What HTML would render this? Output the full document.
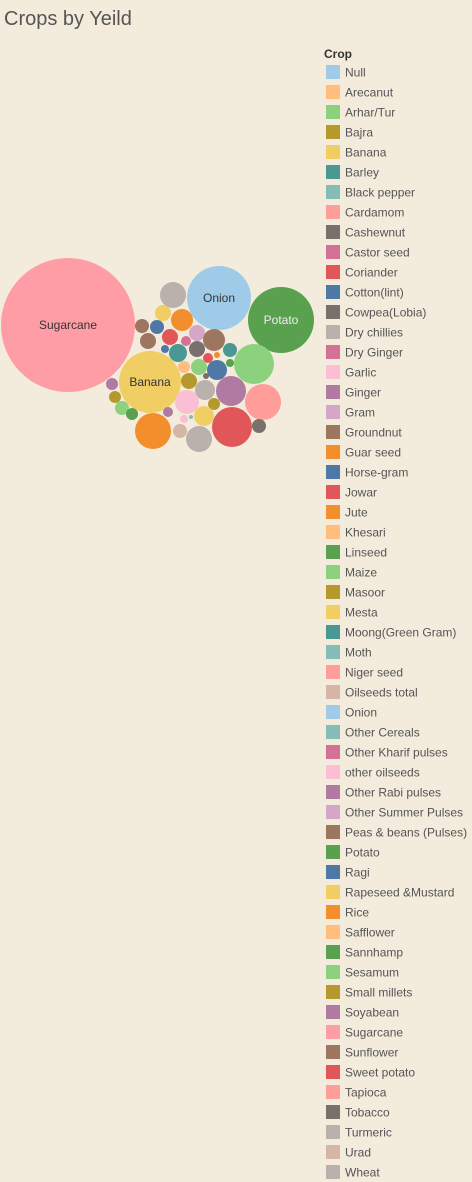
<!DOCTYPE html>
<html><head><meta charset="utf-8">
<style>
body{margin:0;width:472px;height:1182px;background:#f3ecdc;font-family:"Liberation Sans",sans-serif;overflow:hidden;position:relative}
#title{position:absolute;left:4px;top:8px;font-size:20px;color:#555}
svg{position:absolute;left:0;top:0}
</style></head><body>
<div id="title">Crops by Yeild</div>
<svg id="chart" width="472" height="1182"></svg>
<script>
const crops=["Null","Arecanut","Arhar/Tur","Bajra","Banana","Barley","Black pepper","Cardamom","Cashewnut","Castor seed","Coriander","Cotton(lint)","Cowpea(Lobia)","Dry chillies","Dry Ginger","Garlic","Ginger","Gram","Groundnut","Guar seed","Horse-gram","Jowar","Jute","Khesari","Linseed","Maize","Masoor","Mesta","Moong(Green Gram)","Moth","Niger seed","Oilseeds total","Onion","Other Cereals","Other Kharif pulses","other oilseeds","Other Rabi pulses","Other Summer Pulses","Peas & beans (Pulses)","Potato","Ragi","Rapeseed &Mustard","Rice","Safflower","Sannhamp","Sesamum","Small millets","Soyabean","Sugarcane","Sunflower","Sweet potato","Tapioca","Tobacco","Turmeric","Urad","Wheat"];
const colors=["#a0cbe8","#ffbe7d","#8cd17d","#b6992d","#f1ce63","#499894","#86bcb6","#ff9d9a","#79706e","#d37295","#e15759","#4e79a7","#79706e","#bab0ac","#d37295","#fabfd2","#b07aa1","#d4a6c8","#9d7660","#f28e2b","#4e79a7","#e15759","#f28e2b","#ffbe7d","#59a14f","#8cd17d","#b6992d","#f1ce63","#499894","#86bcb6","#ff9d9a","#d7b5a6","#a0cbe8","#86bcb6","#d37295","#fabfd2","#b07aa1","#d4a6c8","#9d7660","#59a14f","#4e79a7","#f1ce63","#f28e2b","#ffbe7d","#59a14f","#8cd17d","#b6992d","#b07aa1","#ff9da7","#9d7660","#e15759","#ff9d9a","#79706e","#bab0ac","#d7b5a6","#bab0ac"];
// bubble data: crop and yield value
const bubbleCrop=["Sugarcane","Onion","Potato","Banana","Maize","Tapioca","Sweet potato","Rice","Soyabean","Turmeric","Dry chillies","Guar seed","Mesta","Peas & beans (Pulses)","Cotton(lint)","Coriander","Sunflower","Gram","Castor seed","Cowpea(Lobia)","Groundnut","Barley","Moong(Green Gram)","Ragi","Jowar","Jute","Linseed","Horse-gram","Sesamum","Khesari","Bajra","Wheat","Garlic","Small millets","Rapeseed &Mustard","Urad","Other Rabi pulses","other oilseeds","Black pepper","Tobacco","Ginger","Masoor","Arhar/Tur","Sannhamp","Cashewnut","Null"];
const bubbleValue=[4489,1024,1089,961,400,324,400,324,225,169,169,121,64,49,49,64,64,64,25,64,121,81,49,16,25,9,16,100,64,36,64,100,144,36,100,49,25,16,4,49,36,36,49,36,9,0];
// packed layout positions (layout, not data)
const layoutX=[68,219,281,150,254,263,232,153,231,199,173,182,163,142,157,170,148,197,186,197,214,178,230,165,208,217,230,217,199,184,189,205,187,214,204,180,168,184,191,259,112,115,122,132,206,0];
const layoutY=[325,298,320,382,364,402,427,431,391,439,295,320,313,326,327,337,341,333,341,349,340,353,350,349,358,355,363,370,367,367,381,390,402,404,416,431,412,419,417,426,384,397,408,414,376,0];
const labelled={"Sugarcane":"#333","Onion":"#333","Potato":"#eee","Banana":"#333"};
const svg=document.getElementById('chart');const NS="http://www.w3.org/2000/svg";
const rScale=v=>Math.sqrt(v);
bubbleCrop.forEach((c,i)=>{
 const r=rScale(bubbleValue[i]);if(r<=0)return;
 const el=document.createElementNS(NS,'circle');
 el.setAttribute('cx',layoutX[i]);el.setAttribute('cy',layoutY[i]);el.setAttribute('r',r);
 el.setAttribute('fill',colors[crops.indexOf(c)]);
 
 
 svg.appendChild(el);
 if(labelled[c]){const t=document.createElementNS(NS,'text');
  t.setAttribute('x',layoutX[i]);t.setAttribute('y',layoutY[i]+4);t.setAttribute('text-anchor','middle');
  t.setAttribute('font-size','12');t.setAttribute('fill',labelled[c]);t.textContent=c;
  
  
  svg.appendChild(t);}
});
const h=document.createElementNS(NS,'text');h.setAttribute('x',324);h.setAttribute('y',58);h.setAttribute('font-size','12');h.setAttribute('font-weight','bold');h.setAttribute('fill','#333');h.textContent='Crop';


svg.appendChild(h);
crops.forEach((c,i)=>{
 const g=document.createElementNS(NS,'g');
 
 
 const y=65+i*20;
 const r=document.createElementNS(NS,'rect');r.setAttribute('x',326);r.setAttribute('y',y);r.setAttribute('width',14);r.setAttribute('height',14);r.setAttribute('fill',colors[i]);
 const t=document.createElementNS(NS,'text');t.setAttribute('x',345);t.setAttribute('y',y+11.5);t.setAttribute('font-size','12');t.setAttribute('fill','#555');t.textContent=c;
 g.appendChild(r);g.appendChild(t);svg.appendChild(g);
});
</script>
</body></html>
